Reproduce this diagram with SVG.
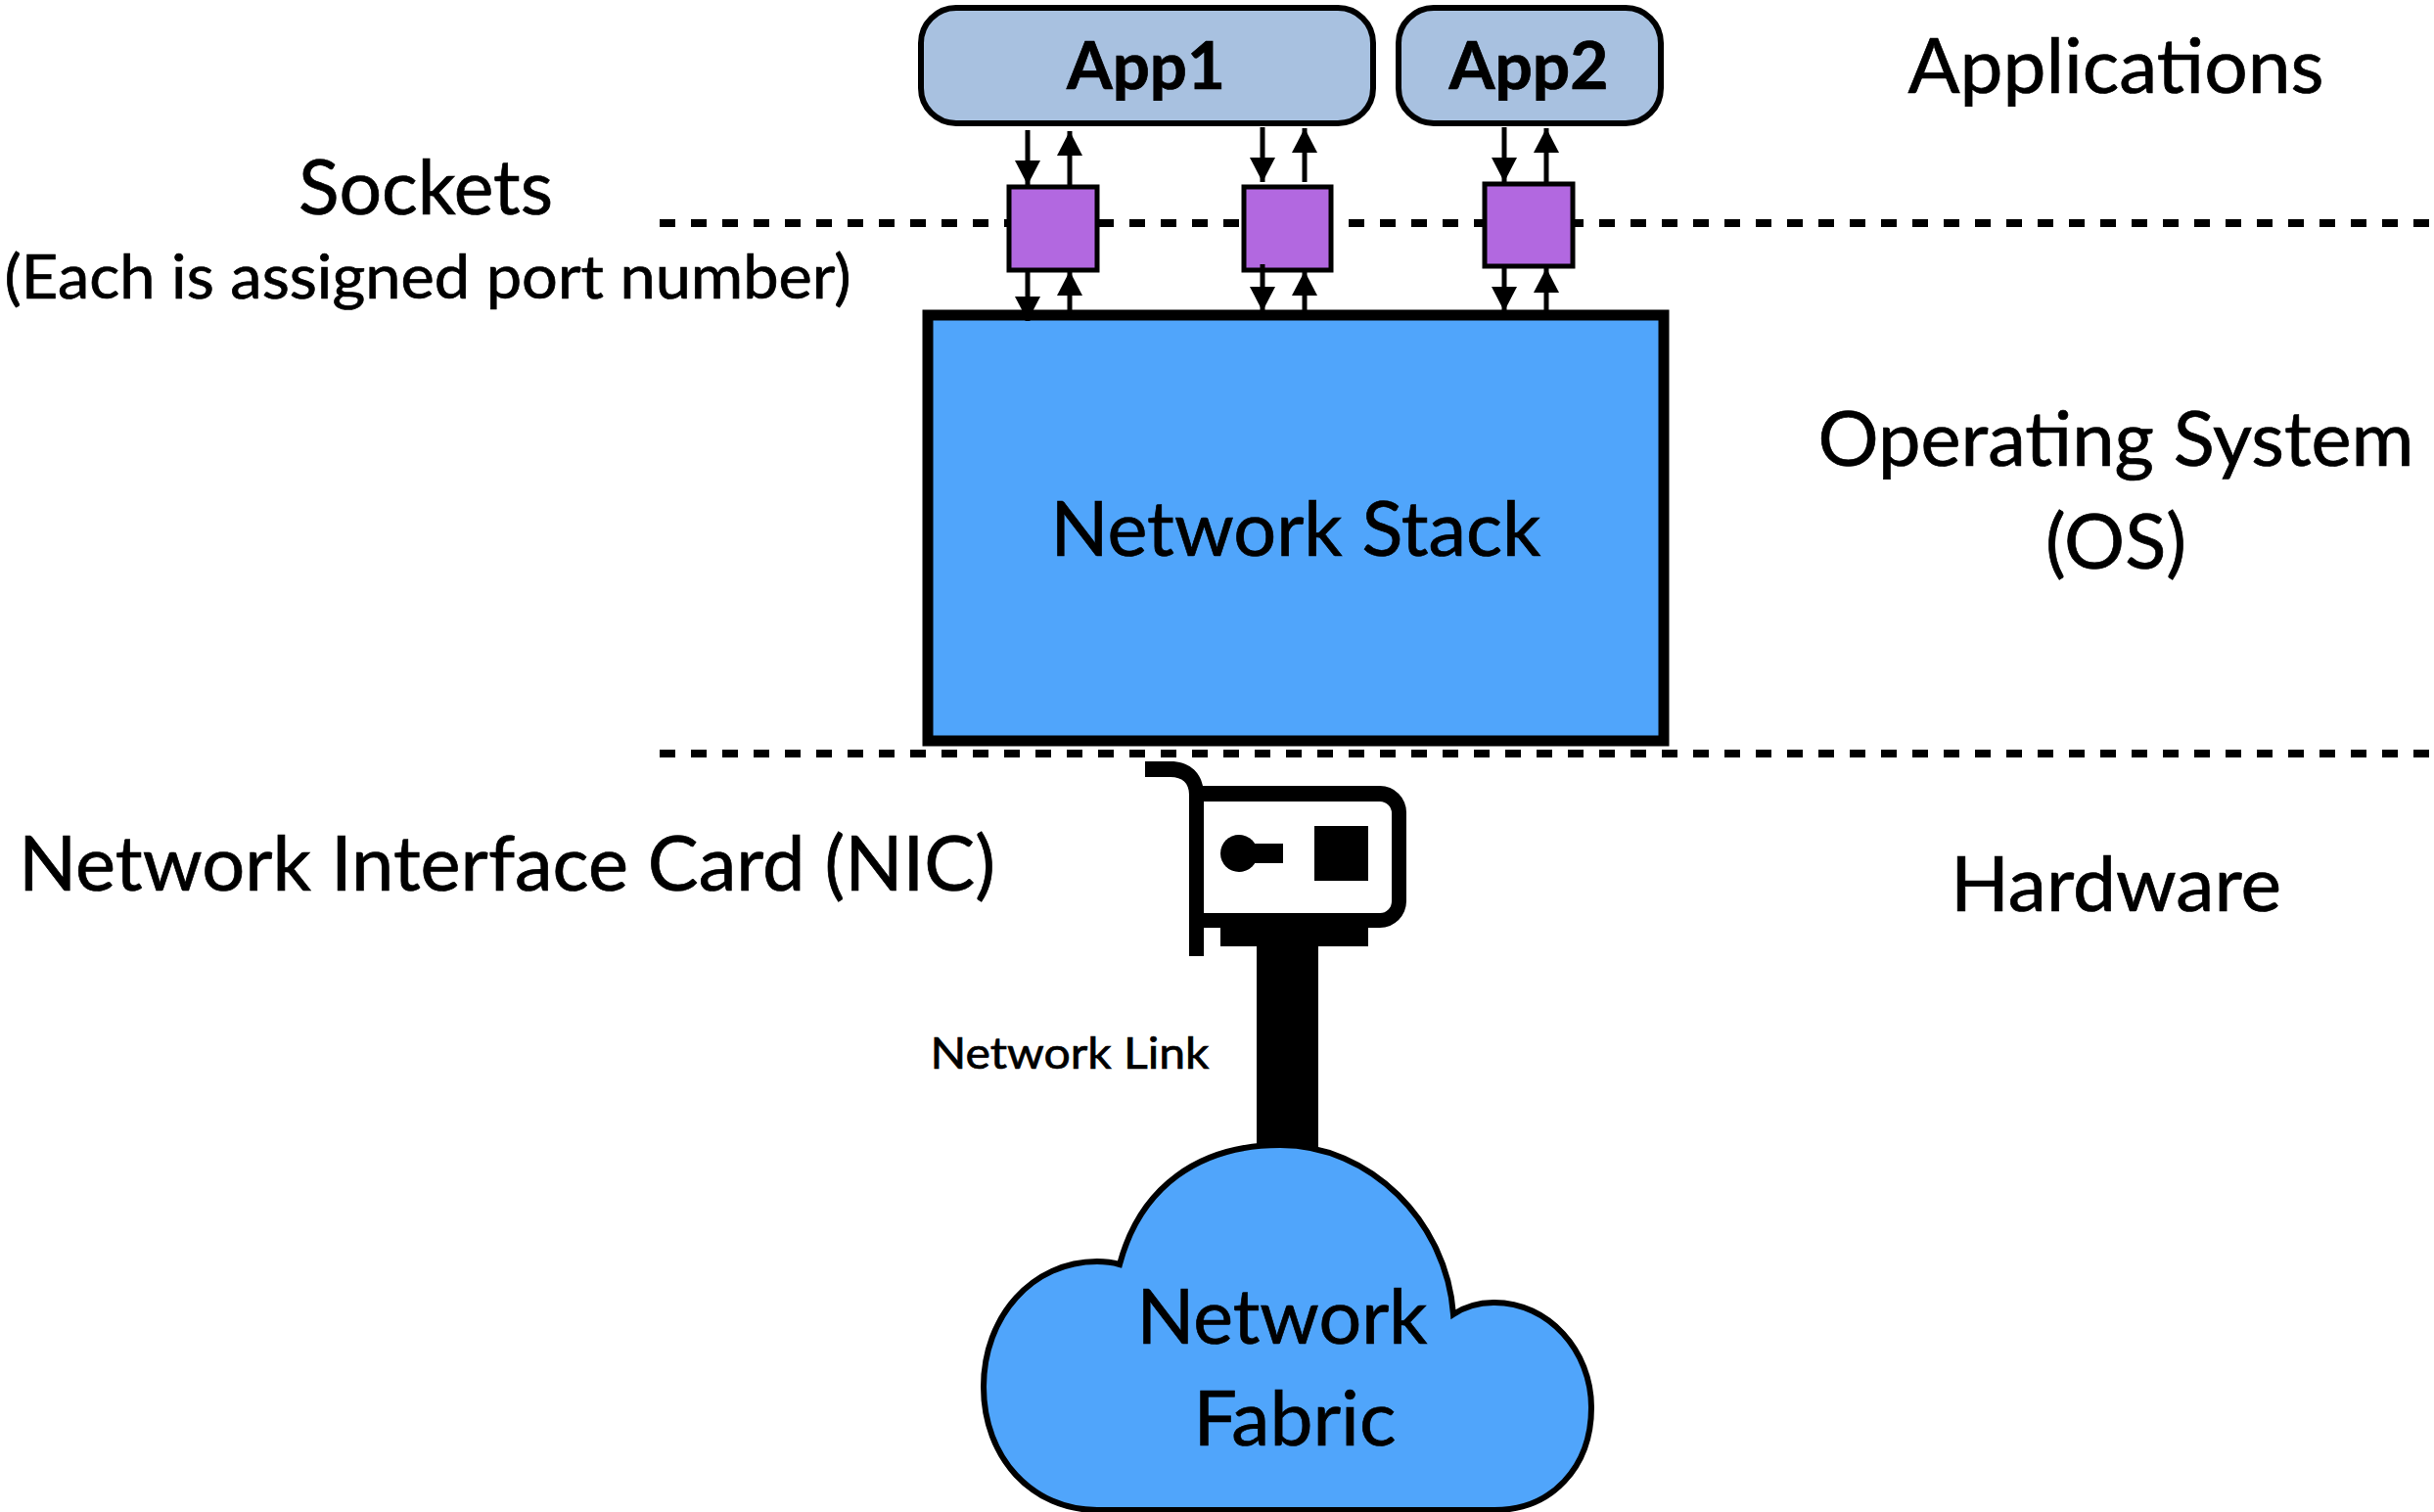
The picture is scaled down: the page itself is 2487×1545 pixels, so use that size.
<svg xmlns="http://www.w3.org/2000/svg" width="2487" height="1545" viewBox="0 0 2487 1545">
<style>
text{font-family:"Lato","Carlito","Liberation Sans",sans-serif;fill:#000;stroke:#000;stroke-width:.7px;text-anchor:middle}
.xl{font-size:77px}.m{font-size:61px}.s{font-size:45px}.b{font-size:66px;font-weight:700}
.app{fill:#a8c1e0;stroke:#000;stroke-width:6}
.sock{fill:#b268e0;stroke:#000;stroke-width:5}
.dash{stroke:#000;stroke-width:8;stroke-dasharray:16 16;fill:none}
.ar{stroke:#000;stroke-width:5;fill:none;marker-end:url(#h)}
.blue{fill:#50a5fb;stroke:#000}
</style>
<defs><marker id="h" markerUnits="userSpaceOnUse" markerWidth="26" markerHeight="26" refX="25" refY="13" orient="auto"><path d="M0,0L25,13L0,26Z" fill="#000"/></marker></defs>
<rect width="2487" height="1545" fill="#fff"/>
<g id="layer-lines">
<path class="dash" d="M674,228H2487"/>
<path class="dash" d="M674,770H2487"/>
</g>
<g id="link"><rect x="1284" y="960" width="63" height="225" fill="#000"/></g>
<g id="app1"><rect class="app" x="941" y="8" width="462" height="118" rx="36"/><text class="b" x="1171" y="91" textLength="162" lengthAdjust="spacingAndGlyphs">App1</text></g>
<g id="app2"><rect class="app" x="1429" y="8" width="268" height="118" rx="36"/><text class="b" x="1562" y="91" textLength="163" lengthAdjust="spacingAndGlyphs">App2</text></g>
<g id="socket1"><rect class="sock" x="1031" y="191" width="90" height="85"/></g>
<g id="socket2"><rect class="sock" x="1271" y="191" width="89" height="85"/></g>
<g id="socket3"><rect class="sock" x="1517" y="188" width="90" height="84"/></g>
<g id="network-stack"><rect class="blue" x="948" y="322" width="752" height="435" stroke-width="11"/><text class="xl" x="1324" y="568" textLength="501" lengthAdjust="spacingAndGlyphs">Network Stack</text></g>
<g id="connectors">
<path class="ar" d="M1050,133V189"/><path class="ar" d="M1093,189V134"/>
<path class="ar" d="M1290,130V186"/><path class="ar" d="M1333,186V131"/>
<path class="ar" d="M1537,130V186"/><path class="ar" d="M1580,186V131"/>
<path class="ar" d="M1050,277V328"/><path class="ar" d="M1093,317V277"/>
<path class="ar" d="M1290,270V318"/><path class="ar" d="M1333,318V277"/>
<path class="ar" d="M1537,274V318"/><path class="ar" d="M1580,318V274"/>
</g>
<g id="nic">
<path fill="#000" fill-rule="evenodd" d="M1170,778H1196C1214,778 1226,788 1229,803H1410A27,27 0 0 1 1437,830V921A27,27 0 0 1 1410,948H1398V967H1247V948H1230V977H1215V812C1215,800 1208,794 1196,794H1170ZM1230,819V933H1410A12,12 0 0 0 1422,921V831A12,12 0 0 0 1410,819Z"/>
<circle cx="1266" cy="872" r="19" fill="#000"/><rect x="1270" y="862" width="41" height="20" fill="#000"/><rect x="1343" y="844" width="55" height="56" fill="#000"/>
</g>
<g id="network-fabric"><path class="blue" stroke-width="6" d="M1144,1292C1165,1213 1225,1170 1308,1170C1400,1170 1478,1248 1485,1343C1497,1335 1512,1331 1527,1331C1582,1331 1626,1380 1626,1438C1626,1500 1585,1543 1527,1543H1121C1055,1543 1005,1490 1005,1417C1005,1345 1055,1289 1121,1289C1130,1289 1137,1290 1144,1292Z"/>
<text class="xl" x="1310" y="1373" textLength="297" lengthAdjust="spacingAndGlyphs">Network</text><text class="xl" x="1323" y="1477" textLength="207" lengthAdjust="spacingAndGlyphs">Fabric</text></g>
<g id="labels">
<text class="xl" x="2162" y="95" textLength="425" lengthAdjust="spacingAndGlyphs">Applications</text>
<text class="xl" x="435" y="219" textLength="260" lengthAdjust="spacingAndGlyphs">Sockets</text>
<text class="m" x="437" y="305" textLength="865" lengthAdjust="spacingAndGlyphs">(Each is assigned port number)</text>
<text class="xl" x="2162" y="476" textLength="609" lengthAdjust="spacingAndGlyphs">Operating System</text>
<text class="xl" x="2162" y="581" textLength="144" lengthAdjust="spacingAndGlyphs">(OS)</text>
<text class="xl" x="2162" y="931" textLength="338" lengthAdjust="spacingAndGlyphs">Hardware</text>
<text class="xl" x="518" y="910" textLength="998" lengthAdjust="spacingAndGlyphs">Network Interface Card (NIC)</text>
<text class="s" x="1093" y="1092" textLength="285" lengthAdjust="spacingAndGlyphs">Network Link</text>
</g>
</svg>
